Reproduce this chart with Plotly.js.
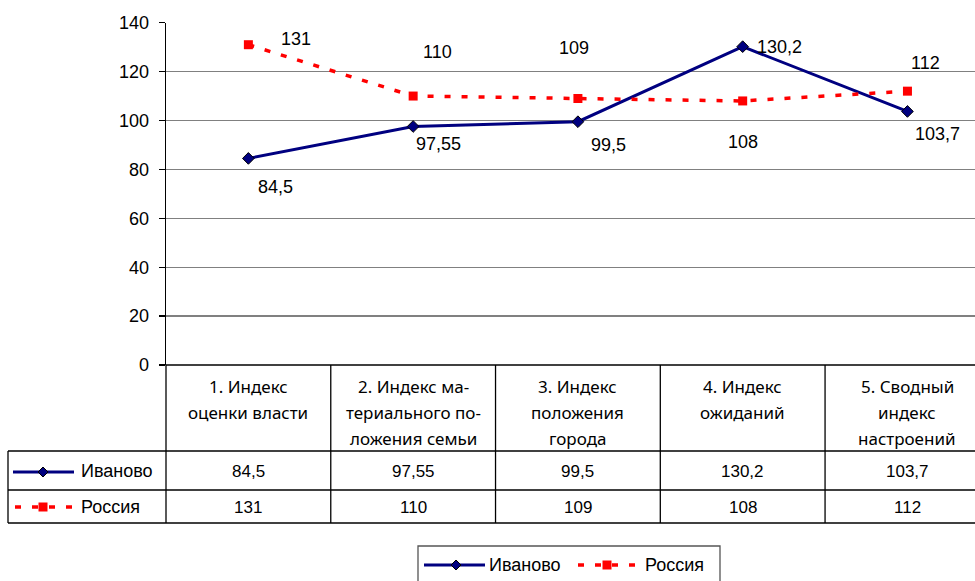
<!DOCTYPE html>
<html>
<head>
<meta charset="utf-8">
<script src="https://cdn.plot.ly/plotly-3.0.1.min.js"></script>
<style>html,body{margin:0;padding:0;background:#fff;}#chart{width:975px;height:581px;}</style>
</head>
<body>
<div id="chart"></div>
<script>
// ---- data ----
const categories = [
  "1. Индекс<br>оценки власти",
  "2. Индекс ма-<br>териального по-<br>ложения семьи",
  "3. Индекс<br>положения<br>города",
  "4. Индекс<br>ожиданий",
  "5. Сводный<br>индекс<br>настроений"
];
const seriesNames = ["Иваново", "Россия"];
const ivanovo = [84.5, 97.55, 99.5, 130.2, 103.7];
const russia = [131, 110, 109, 108, 112];
const yTicks = [0, 20, 40, 60, 80, 100, 120, 140];

// ---- layout helpers (pixel -> paper) ----
const W = 975, H = 581;
const px = x => x / W;
const py = y => 1 - y / H;
const fmt = v => String(v).replace('.', ',');
const xIdx = categories.map((c, i) => i);

const NAVY = '#000080', RED = '#FF0000';
const arial = 'Liberation Sans, Arial, sans-serif';
const calibri = 'Noto Sans, Open Sans, sans-serif';

// label offsets (xshift, yshift) as placed in the original
const ivShift = [[27, -29], [25, -18], [31, -23], [37, 0], [30, -23]];
const ruShift = [[48, 6], [24, 44], [-4, 51], [0, -41], [18, 28]];

const traces = [
  {
    x: xIdx, y: ivanovo, name: seriesNames[0], type: 'scatter', mode: 'lines+markers',
    line: {color: NAVY, width: 3},
    marker: {symbol: 'diamond', size: 9, color: NAVY, line: {color: '#000', width: 1}},
    cliponaxis: false, hoverinfo: 'skip'
  },
  {
    x: xIdx, y: russia, name: seriesNames[1], type: 'scatter', mode: 'lines+markers',
    line: {color: RED, width: 3.5, dash: '6px,11px'},
    marker: {symbol: 'square', size: 9, color: RED},
    cliponaxis: false, hoverinfo: 'skip'
  }
];

const annotations = [];
ivanovo.forEach((v, i) => annotations.push({
  x: i, y: v, xref: 'x', yref: 'y', text: fmt(v), showarrow: false,
  xshift: ivShift[i][0], yshift: ivShift[i][1],
  font: {family: arial, size: 18, color: '#000'}
}));
russia.forEach((v, i) => annotations.push({
  x: i, y: v, xref: 'x', yref: 'y', text: fmt(v), showarrow: false,
  xshift: ruShift[i][0], yshift: ruShift[i][1],
  font: {family: arial, size: 18, color: '#000'}
}));
// header (category) labels
categories.forEach((c, i) => {
  c.split('<br>').forEach((line, j) => annotations.push({
    x: i, xref: 'x', y: py(386 + 26 * j), yref: 'paper', yanchor: 'middle',
    text: line, showarrow: false, font: {family: calibri, size: 17, color: '#000'}
  }));
});
// table values
const rowY = [471, 507];
[ivanovo, russia].forEach((arr, r) => arr.forEach((v, i) => annotations.push({
  x: i, xref: 'x', y: py(rowY[r]), yref: 'paper', yanchor: 'middle',
  text: fmt(v), showarrow: false, font: {family: arial, size: 17, color: '#000'}
})));
// row labels
seriesNames.forEach((n, r) => annotations.push({
  x: px(79), xref: 'paper', xanchor: 'left', y: py(rowY[r]), yref: 'paper', yanchor: 'middle',
  text: n, showarrow: false, font: {family: arial, size: 18, color: '#000'}
}));
// bottom legend labels
annotations.push({x: px(487), xref: 'paper', xanchor: 'left', y: py(565), yref: 'paper', yanchor: 'middle',
  text: seriesNames[0], showarrow: false, font: {family: arial, size: 18, color: '#000'}});
annotations.push({x: px(643), xref: 'paper', xanchor: 'left', y: py(565), yref: 'paper', yanchor: 'middle',
  text: seriesNames[1], showarrow: false, font: {family: arial, size: 18, color: '#000'}});

const LC = '#000';
const hline = (x0, x1, y, color, width, dash) => ({type: 'line', xref: 'paper', yref: 'paper',
  x0: px(x0), x1: px(x1), y0: py(y), y1: py(y), line: {color: color || LC, width: width || 1.3, dash: dash || 'solid'}});
const vline = (x, y0, y1) => ({type: 'line', xref: 'paper', yref: 'paper',
  x0: px(x), x1: px(x), y0: py(y0), y1: py(y1), line: {color: LC, width: 1.3}});
const diamond = (cx, cy, r) => ({type: 'path', xref: 'paper', yref: 'paper',
  path: `M${px(cx - r)},${py(cy)} L${px(cx)},${py(cy - r)} L${px(cx + r)},${py(cy)} L${px(cx)},${py(cy + r)} Z`,
  fillcolor: NAVY, line: {color: '#000', width: 1}});
const square = (cx, cy, r) => ({type: 'rect', xref: 'paper', yref: 'paper',
  x0: px(cx - r), x1: px(cx + r), y0: py(cy - r), y1: py(cy + r), fillcolor: RED, line: {width: 0}});

const shapes = [
  hline(166, 975, 365, '#000', 1.5),
  hline(8, 975, 451), hline(8, 975, 490), hline(8, 975, 523),
  vline(166, 365, 523), vline(8, 451, 523),
  // row samples
  hline(13, 74, 472, NAVY, 3), diamond(43, 472, 5),
  hline(15, 74, 507, RED, 3.5, '6px,11px'), square(43, 507, 4.5),
  // bottom legend
  {type: 'rect', xref: 'paper', yref: 'paper', x0: px(418), x1: px(720), y0: py(546), y1: py(600),
    line: {color: '#555', width: 1.3}, fillcolor: 'rgba(0,0,0,0)'},
  hline(424, 485, 565, NAVY, 3), diamond(456, 565, 5),
  hline(578, 640, 565, RED, 3.5, '6px,11px'), square(607, 565, 4.5)
];
// column separators tied to the category axis
for (let i = 0; i < categories.length - 1; i++) {
  shapes.push({type: 'line', xref: 'x', yref: 'paper', x0: i + 0.5, x1: i + 0.5, y0: py(365), y1: py(523),
    line: {color: LC, width: 1.3}});
}

const layout = {
  width: W, height: H,
  margin: {l: 0, r: 0, t: 0, b: 0},
  paper_bgcolor: '#fff', plot_bgcolor: 'rgba(0,0,0,0)',
  showlegend: false,
  xaxis: {domain: [px(166), 1], range: [-0.5, 4.41], showticklabels: false, showgrid: false,
    zeroline: false, showline: false, ticks: '', fixedrange: true},
  yaxis: {domain: [py(365), py(22.7)], range: [0, 140], tickvals: yTicks, ticktext: yTicks.map(String),
    showgrid: true, gridcolor: '#808080', gridwidth: 1.3, zeroline: false,
    showline: true, linecolor: '#000', linewidth: 1.3, ticks: 'outside', ticklen: 6, tickcolor: '#000',
    tickwidth: 1.3, ticklabelstandoff: 6,
    tickfont: {family: arial, size: 18, color: '#000'}, fixedrange: true},
  annotations: annotations,
  shapes: shapes
};

Plotly.newPlot('chart', traces, layout, {staticPlot: true, displayModeBar: false});
</script>
</body>
</html>
